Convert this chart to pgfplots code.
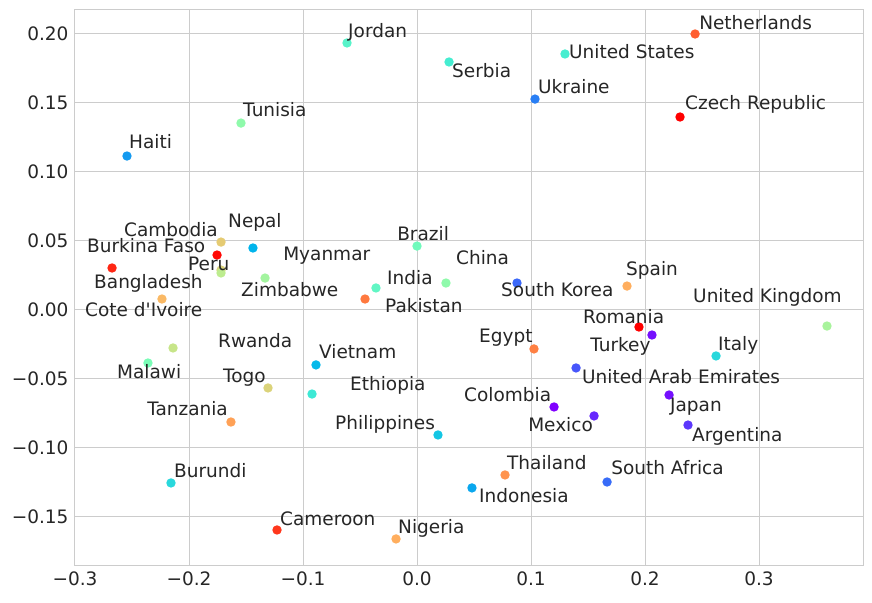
\documentclass[border=0pt]{standalone}
\usepackage{fontspec}
\setmainfont{DejaVu Sans}
% \newfontfamily leaves the straight apostrophe alone
\newfontfamily\plainsans{DejaVu Sans}
\usepackage{pgfplots}
\pgfplotsset{compat=1.18}
\definecolor{gridgray}{HTML}{CCCCCC}
\definecolor{textgray}{HTML}{262626}
\pgfdeclareplotmark{flatdot}{\pgfpathcircle{\pgfpointorigin}{\pgfplotmarksize}\pgfusepathqfill}
\begin{document}
\begin{tikzpicture}[x=1pt,y=1pt]
  \useasboundingbox (-75,-37) rectangle (797,565);
  \begin{axis}[
      at={(0,0)}, anchor=south west,
      scale only axis,
      width=788pt, height=555pt,
      xmin=-0.3, xmax=0.3912,
      ymin=-0.1853, ymax=0.2172,
      xtick={-0.3,-0.2,-0.1,0,0.1,0.2,0.3},
      xticklabels={−0.3,−0.2,−0.1,0.0,0.1,0.2,0.3},
      ytick={-0.15,-0.10,-0.05,0,0.05,0.10,0.15,0.20},
      yticklabels={−0.15,−0.10,−0.05,0.00,0.05,0.10,0.15,0.20},
      major tick length=0pt,
      tick label style={font=\fontsize{18.5}{21}\selectfont, text=textgray},
      xticklabel style={yshift=-3pt},
      yticklabel style={xshift=-3pt},
      grid=major,
      grid style={gridgray, line width=1pt},
      axis line style={gridgray, line width=1pt},
      colormap={mplrainbow}{rgb=(.5,0,1) rgb=(.25,.383,.981) rgb=(0,.707,.924)
        rgb=(.25,.924,.831) rgb=(.5,1,.707) rgb=(.75,.924,.556)
        rgb=(1,.707,.383) rgb=(1,.383,.195) rgb=(1,0,0)},
      point meta min=0, point meta max=1,
    ]
    \addplot[scatter, only marks, mark=flatdot, mark size=4.7pt, scatter src=explicit,
      scatter/use mapped color={fill=mapped color}]
    table[x=x, y=y, meta=c] {
x y c
-0.0614 0.1933 0.42
0.2439 0.1998 0.88
0.0281 0.1795 0.385
0.1298 0.1853 0.39
0.1035 0.1526 0.17
0.2307 0.1396 1.00
-0.1544 0.1352 0.53
-0.2544 0.1113 0.21
-0.1719 0.0489 0.70
-0.1439 0.0446 0.25
-0.1754 0.0395 0.99
-0.2675 0.0301 0.95
-0.1719 0.0286 0.68
-0.1719 0.0265 0.62
-0.1333 0.0228 0.57
-0.0360 0.0156 0.44
-0.0456 0.0076 0.84
-0.2237 0.0076 0.74
-0.2140 -0.0279 0.64
-0.2360 -0.0388 0.49
-0.0886 -0.0402 0.26
-0.1307 -0.0569 0.68
-0.0921 -0.0613 0.37
-0.1632 -0.0816 0.78
0.0184 -0.0910 0.29
0.0000 0.0460 0.47
0.0254 0.0192 0.53
0.0877 0.0192 0.135
0.1842 0.0170 0.76
0.3596 -0.0120 0.58
0.1947 -0.0127 1.00
0.2061 -0.0185 0.02
0.1026 -0.0286 0.83
0.2623 -0.0337 0.33
0.1395 -0.0424 0.11
0.2211 -0.0620 0.02
0.1202 -0.0707 0.00
0.1553 -0.0772 0.05
0.2377 -0.0838 0.07
-0.2158 -0.1258 0.33
0.0772 -0.1200 0.80
0.1667 -0.1251 0.14
0.0482 -0.1294 0.23
-0.1228 -0.1599 0.93
-0.0184 -0.1664 0.76
    };
    % labels sit at their own baseline-left positions, they do not share the dots' coordinates
    \addplot[draw=none, mark=none, nodes near coords, point meta=explicit symbolic,
      nodes near coords style={anchor=base west, inner sep=0pt, text=textgray,
        font=\plainsans\fontsize{18.5}{21}\selectfont}]
    table[col sep=comma, x=x, y=y, meta=label] {
x,y,label
-0.0605,0.1969,Jordan
0.2474,0.2034,Netherlands
0.0307,0.1679,Serbia
0.1333,0.1817,United States
0.1061,0.1570,Ukraine
0.2351,0.1447,Czech Republic
-0.1526,0.1396,Tunisia
-0.2526,0.1164,Haiti
-0.2570,0.0526,Cambodia
-0.1658,0.0598,Nepal
-0.2895,0.0410,Burkina Faso
-0.1175,0.0352,Myanmar
-0.2009,0.0286,Peru
-0.2833,0.0149,Bangladesh
-0.1544,0.0091,Zimbabwe
-0.2912,-0.0054,Cote d'Ivoire
-0.1746,-0.0279,Rwanda
-0.0860,-0.0352,Vietnam
-0.2632,-0.0504,Malawi
-0.1702,-0.0533,Togo
-0.0263,0.0178,India
-0.0281,-0.0025,Pakistan
-0.0175,0.0497,Brazil
0.0342,0.0323,China
0.0737,0.0091,South Korea
0.1833,0.0250,Spain
0.2421,0.0054,United Kingdom
0.1456,-0.0098,Romania
0.0544,-0.0243,Egypt
0.1518,-0.0308,Turkey
0.2640,-0.0294,Italy
0.1447,-0.0540,United Arab Emirates
0.0412,-0.0664,Colombia
0.2219,-0.0743,Japan
0.0974,-0.0888,Mexico
0.2412,-0.0954,Argentina
-0.0588,-0.0584,Ethiopia
-0.2368,-0.0772,Tanzania
-0.0719,-0.0867,Philippines
-0.2132,-0.1215,Burundi
0.0789,-0.1157,Thailand
0.1702,-0.1200,South Africa
0.0544,-0.1403,Indonesia
-0.1202,-0.1563,Cameroon
-0.0167,-0.1628,Nigeria
    };
  \end{axis}
\end{tikzpicture}
\end{document}
